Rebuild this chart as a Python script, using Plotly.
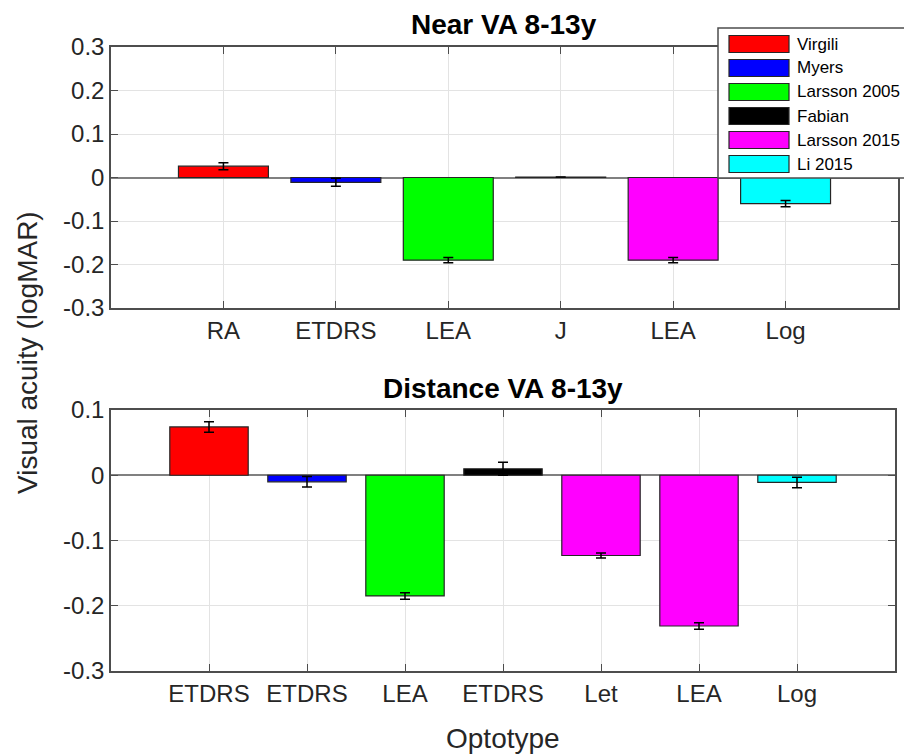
import plotly.graph_objects as go

# Studies / colours (legend)
studies = ['Virgili', 'Myers', 'Larsson 2005', 'Fabian', 'Larsson 2015', 'Li 2015']
study_colors = ['#ff0000', '#0000ff', '#00ff00', '#000000', '#ff00ff', '#00ffff']

# Near VA 8-13y
near_labels = ['RA', 'ETDRS', 'LEA', 'J', 'LEA', 'Log']
near_values = [0.026, -0.011, -0.190, 0.001, -0.190, -0.060]
near_errors = [0.008, 0.009, 0.006, 0.0, 0.006, 0.007]
near_colors = ['#ff0000', '#0000ff', '#00ff00', '#000000', '#ff00ff', '#00ffff']

# Distance VA 8-13y
dist_labels = ['ETDRS', 'ETDRS', 'LEA', 'ETDRS', 'Let', 'LEA', 'Log']
dist_values = [0.074, -0.010, -0.185, 0.010, -0.123, -0.231, -0.011]
dist_errors = [0.008, 0.008, 0.005, 0.010, 0.004, 0.005, 0.008]
dist_colors = ['#ff0000', '#0000ff', '#00ff00', '#000000', '#ff00ff', '#ff00ff', '#00ffff']

FONT = 'Liberation Sans, Arial, Helvetica, sans-serif'
AXIS_COLOR = '#4d4d4d'
TEXT_COLOR = '#262626'
GRID_COLOR = '#e3e3e3'

# the page body has an 8px margin, so the figure is shrunk by that much
OFF = 8
W, H = 912 - OFF, 754 - OFF
L, R, T, B = 111 - OFF, 0, 47 - OFF, 83
PW, PH = W - L - R, H - T - B


def px_x(p):
    # screen x pixel -> paper coordinate
    return (p - OFF - L) / PW


def px_y(p):
    # screen y pixel -> paper coordinate
    return (H - B - (p - OFF)) / PH


near_x = list(range(1, len(near_labels) + 1))
dist_x = list(range(1, len(dist_labels) + 1))

fig = go.Figure()

fig.add_trace(go.Bar(
    x=near_x, y=near_values, width=0.8,
    marker=dict(color=near_colors, line=dict(color='#262626', width=1.2)),
    error_y=dict(type='data', array=near_errors, color='black', thickness=1.5, width=5),
    xaxis='x', yaxis='y', showlegend=False
))

fig.add_trace(go.Bar(
    x=dist_x, y=dist_values, width=0.8,
    marker=dict(color=dist_colors, line=dict(color='#262626', width=1.2)),
    error_y=dict(type='data', array=dist_errors, color='black', thickness=1.5, width=5),
    xaxis='x2', yaxis='y2', showlegend=False
))


def fmt(v):
    return '0' if abs(v) < 1e-9 else f'{v:.1f}'


near_ticks = [-0.3, -0.2, -0.1, 0, 0.1, 0.2, 0.3]
dist_ticks = [-0.3, -0.2, -0.1, 0, 0.1]

axis_common = dict(
    showline=True, linecolor=AXIS_COLOR, linewidth=1.5, mirror='ticks',
    ticks='inside', ticklen=7, tickwidth=1.2, tickcolor=AXIS_COLOR,
    showgrid=True, gridcolor=GRID_COLOR, gridwidth=1,
    tickfont=dict(size=24, color=TEXT_COLOR, family=FONT),
)

fig.update_layout(
    width=W, height=H,
    margin=dict(l=L, r=R, t=T, b=B),
    paper_bgcolor='white', plot_bgcolor='white',
    font=dict(family=FONT, color=TEXT_COLOR),
    showlegend=False,
    xaxis=dict(domain=[0, px_x(898)], range=[0, 7], tickvals=near_x, ticktext=near_labels,
               anchor='y', zeroline=False, **axis_common),
    yaxis=dict(domain=[px_y(308), 1], range=[-0.3, 0.3], tickvals=near_ticks,
               ticktext=[fmt(v) for v in near_ticks], anchor='x',
               zeroline=True, zerolinecolor='#808080', zerolinewidth=1.5, **axis_common),
    xaxis2=dict(domain=[0, px_x(895)], range=[0, 8], tickvals=dist_x, ticktext=dist_labels,
                anchor='y2', zeroline=False, **axis_common),
    yaxis2=dict(domain=[0, px_y(410)], range=[-0.3, 0.1], tickvals=dist_ticks,
                ticktext=[fmt(v) for v in dist_ticks], anchor='x2',
                zeroline=True, zerolinecolor='#808080', zerolinewidth=1.5, **axis_common),
)

centered = dict(xref='paper', yref='paper', xanchor='center', yanchor='middle', showarrow=False)
annotations = [
    dict(text='<b>Near VA 8-13y</b>', x=px_x(504), y=px_y(25),
         font=dict(size=28, color='black', family=FONT), **centered),
    dict(text='<b>Distance VA 8-13y</b>', x=px_x(503), y=px_y(388),
         font=dict(size=28, color='black', family=FONT), **centered),
    dict(text='Visual acuity (logMAR)', x=px_x(27), y=px_y(353), textangle=-90,
         font=dict(size=28, color=TEXT_COLOR, family=FONT), **centered),
    dict(text='Optotype', x=px_x(503), y=px_y(738),
         font=dict(size=28, color=TEXT_COLOR, family=FONT), **centered),
]

# Legend box drawn by hand to match the wide swatches
shapes = [dict(type='rect', xref='paper', yref='paper',
               x0=px_x(718), x1=px_x(930), y0=px_y(178), y1=px_y(28),
               line=dict(color=AXIS_COLOR, width=1.5), fillcolor='white', layer='above')]
for i, (name, col) in enumerate(zip(studies, study_colors)):
    cy = 44 + 24 * i
    shapes.append(dict(type='rect', xref='paper', yref='paper',
                       x0=px_x(729), x1=px_x(789), y0=px_y(cy + 8.5), y1=px_y(cy - 8.5),
                       line=dict(color='#262626', width=1.2), fillcolor=col, layer='above'))
    annotations.append(dict(text=name, x=px_x(795), y=px_y(cy), xref='paper', yref='paper',
                            xanchor='left', yanchor='middle', showarrow=False,
                            font=dict(size=17, color='black', family=FONT)))

fig.update_layout(annotations=annotations, shapes=shapes)

fig.write_html('out.html')
